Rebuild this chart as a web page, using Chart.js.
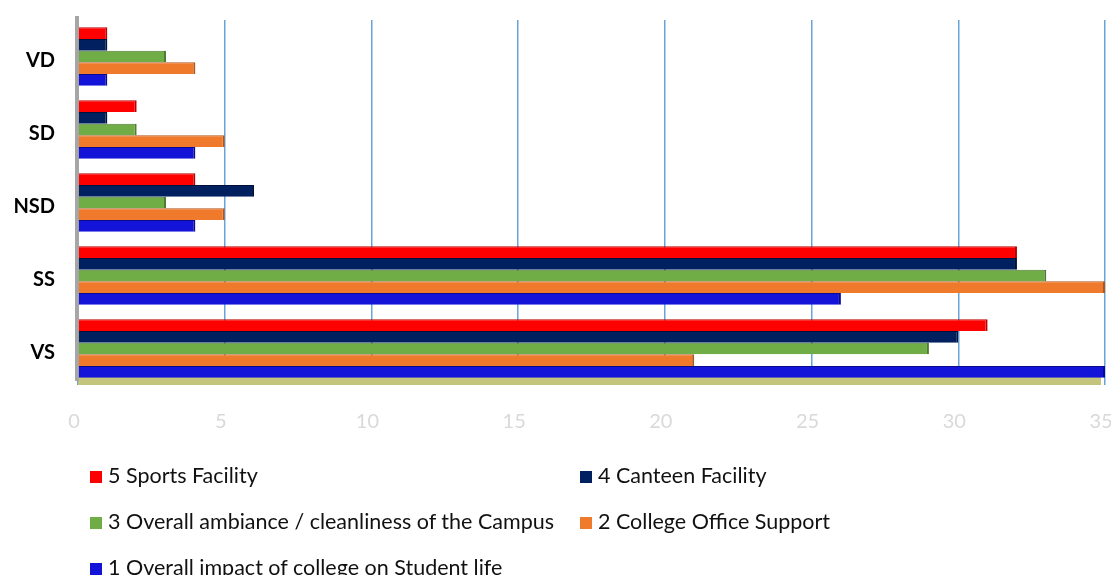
<!DOCTYPE html>
<html>
  <head>
    <script src="https://cdn.jsdelivr.net/npm/chart.js@4/dist/chart.umd.min.js"></script>
    <style>
      body { margin: 0; background: #fff; }
      #wrap { position: relative; width: 1111px; height: 575px; }
      #legend { position: absolute; left: 90px; top: 462px; display: grid; grid-template-columns: 490px 400px; row-gap: 20px; font-family: Lato, 'Open Sans', sans-serif; font-size: 21.5px; color: #111; }
      #legend span.box { display: inline-block; width: 12px; height: 12px; margin-right: 6px; vertical-align: 0px; }
    </style>
  </head>

  <body>
    <div id="wrap">
      <canvas id="canvas" width="1111" height="575"></canvas>
      <div id="legend"></div>
    </div>
    <script>
      const categories = ['VD', 'SD', 'NSD', 'SS', 'VS'];
      const seriesNames = [
        '5 Sports Facility',
        '4 Canteen Facility',
        '3 Overall ambiance / cleanliness of the Campus',
        '2 College Office Support',
        '1 Overall impact of college on Student life',
      ];
      const sports = [1, 2, 4, 32, 31];
      const canteen = [1, 1, 6, 32, 30];
      const ambiance = [3, 2, 3, 33, 29];
      const office = [4, 5, 5, 35, 21];
      const impact = [1, 4, 4, 26, 35];
      const xTicks = [0, 5, 10, 15, 20, 25, 30, 35];

      const colors = ['#ff0000', '#002060', '#70ad47', '#f07a2c', '#1414d8'];
      const edges = ['#b80000', '#00103a', '#4f7d30', '#b0551c', '#0a0a90'];
      const values = [sports, canteen, ambiance, office, impact];

      // floor + side wall, like the excel 3d look
      const walls = {
        id: 'walls',
        beforeDatasetsDraw(chart) {
          const { ctx, chartArea: a } = chart;
          ctx.save();
          ctx.fillStyle = '#c4c47c';
          ctx.fillRect(a.left, a.bottom - 8, a.right - a.left - 4, 8);
          ctx.fillStyle = '#a6a6a6';
          ctx.fillRect(a.left - 3, a.top - 4, 4, a.bottom - a.top);
          ctx.restore();
        },
      };

      new Chart(document.getElementById('canvas').getContext('2d'), {
        type: 'bar',
        data: {
          labels: categories,
          datasets: values.map((v, i) => ({
            label: seriesNames[i],
            data: v,
            backgroundColor: colors[i],
            borderColor: edges[i],
            borderWidth: { right: 2, top: 1 },
            borderSkipped: 'left',
            categoryPercentage: 0.8,
            barPercentage: 1,
          })),
        },
        options: {
          indexAxis: 'y',
          responsive: false,
          animation: false,
          layout: { padding: { top: 20, right: 6 } },
          plugins: {
            legend: { display: false },
            tooltip: { enabled: false },
          },
          scales: {
            x: {
              min: 0,
              max: 35,
              afterBuildTicks: (s) => { s.ticks = xTicks.map((v) => ({ value: v })); },
              afterFit: (s) => { s.height = 190; s.paddingLeft = 0; s.paddingRight = 0; },
              grid: { color: '#6aa3d8', lineWidth: 1.5, drawTicks: false },
              border: { display: false },
              ticks: {
                color: '#d9d9d9',
                padding: 25,
                labelOffset: -4,
                font: { family: 'Lato', size: 20 },
              },
            },
            y: {
              afterFit: (s) => { s.width = 78; s.paddingTop = 0; s.paddingBottom = 0; },
              grid: { display: false, drawTicks: false },
              border: { display: false },
              ticks: {
                color: '#000',
                padding: 23,
                labelOffset: 4,
                font: { family: 'Lato', size: 20, weight: 'bold' },
              },
            },
          },
        },
        plugins: [walls],
      });

      const legend = document.getElementById('legend');
      seriesNames.forEach((name, i) => {
        const item = document.createElement('div');
        item.innerHTML = '<span class="box" style="background:' + colors[i] + '"></span>' + name;
        legend.appendChild(item);
      });
    </script>
  </body>
</html>
